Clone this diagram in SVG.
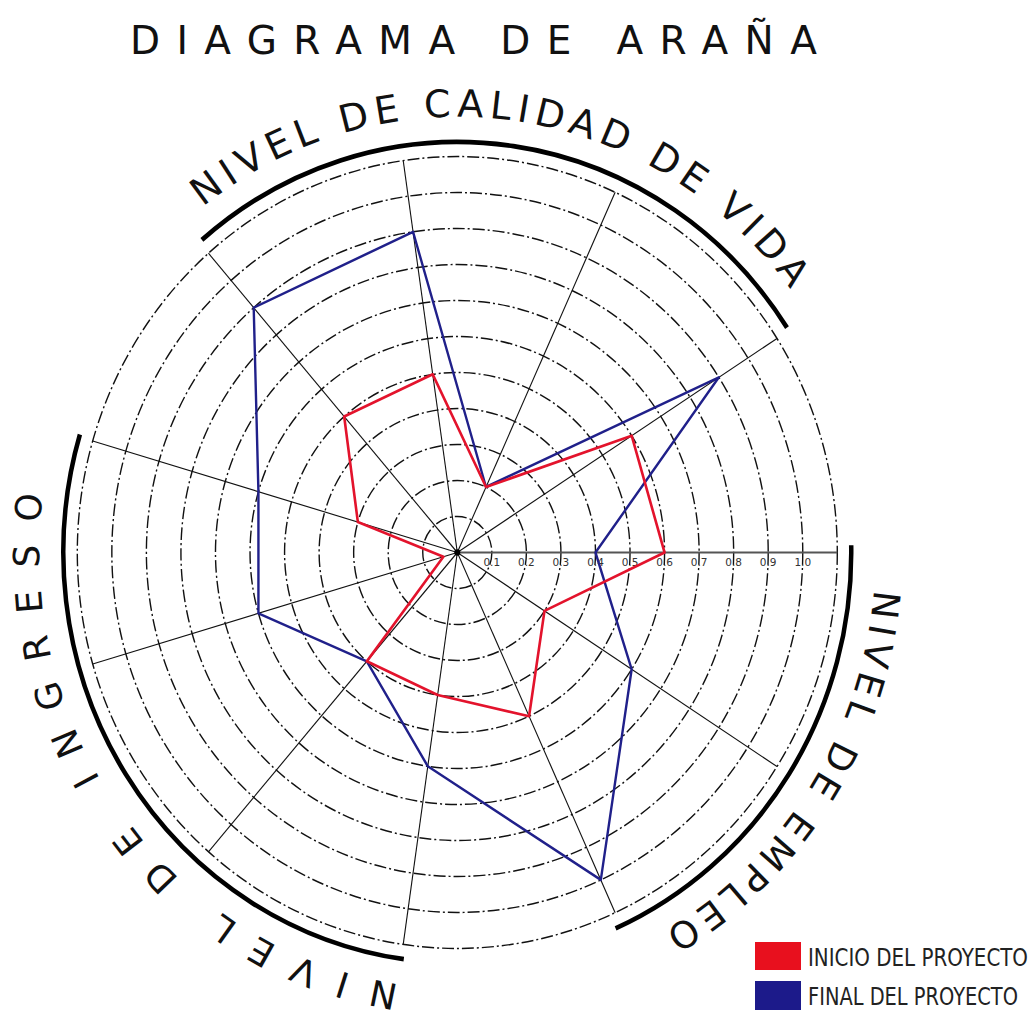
<svg xmlns="http://www.w3.org/2000/svg" width="1035" height="1010" viewBox="0 0 1035 1010">
<defs>
<style>
.ring{fill:none;stroke:#111;stroke-width:1.4;stroke-dasharray:12 3 2 3}
.spoke{stroke:#111;stroke-width:1.1;fill:none}
.thick{fill:none;stroke:#000;stroke-width:4.5}
.lbl{font-family:"DejaVu Sans",sans-serif;fill:#111}
.tick{font-family:"DejaVu Sans",sans-serif;font-size:10.5px;fill:#333;text-anchor:middle}
.leg{font-family:"DejaVu Sans",sans-serif;font-size:25px;fill:#222}
.red{fill:none;stroke:#e3132c;stroke-width:2.6;stroke-linejoin:round}
.blue{fill:none;stroke:#20208a;stroke-width:2.4;stroke-linejoin:round}
</style>
<path id="pTop" d="M 202.8 206.9 A 418 435.6 0 0 1 850.1 403.5"/>
<path id="pRight" d="M 873.8 589.7 A 418 435.6 0 0 1 529.9 981.5"/>
<path id="pLeft" d="M 399.1 983.9 A 418 435.6 0 0 1 64.5 403.5"/>
</defs>
<rect width="1035" height="1010" fill="#fff"/>
<text x="130" y="54" font-family="DejaVu Sans, sans-serif" font-size="39" letter-spacing="16.4" fill="#111">DIAGRAMA DE ARAÑA</text>
<g id="axis-labels">
<text class="tick" x="491.8" y="566">0.1</text>
<text class="tick" x="526.4" y="566">0.2</text>
<text class="tick" x="560.9" y="566">0.3</text>
<text class="tick" x="595.5" y="566">0.4</text>
<text class="tick" x="630.0" y="566">0.5</text>
<text class="tick" x="664.6" y="566">0.6</text>
<text class="tick" x="699.1" y="566">0.7</text>
<text class="tick" x="733.7" y="566">0.8</text>
<text class="tick" x="768.2" y="566">0.9</text>
<text class="tick" x="802.8" y="566">1.0</text>
</g>
<g id="grid" transform="translate(457.3 552.5) scale(1 1.042)">
<circle class="ring" r="34.545"/>
<circle class="ring" r="69.09"/>
<circle class="ring" r="103.64"/>
<circle class="ring" r="138.18"/>
<circle class="ring" r="172.73"/>
<circle class="ring" r="207.27"/>
<circle class="ring" r="241.82"/>
<circle class="ring" r="276.36"/>
<circle class="ring" r="310.91"/>
<circle class="ring" r="345.45"/>
<circle class="ring" r="380"/>
<g id="connectors">
<line class="spoke" x1="0" y1="0" x2="319.68" y2="-205.44"/>
<line class="spoke" x1="0" y1="0" x2="157.86" y2="-345.66"/>
<line class="spoke" x1="0" y1="0" x2="-54.08" y2="-376.13"/>
<line class="spoke" x1="0" y1="0" x2="-248.85" y2="-287.19"/>
<line class="spoke" x1="0" y1="0" x2="-364.61" y2="-107.06"/>
<line class="spoke" x1="0" y1="0" x2="-364.61" y2="107.06"/>
<line class="spoke" x1="0" y1="0" x2="-248.85" y2="287.19"/>
<line class="spoke" x1="0" y1="0" x2="-54.08" y2="376.13"/>
<line class="spoke" x1="0" y1="0" x2="157.86" y2="345.66"/>
<line class="spoke" x1="0" y1="0" x2="319.68" y2="205.44"/>
<line x1="0" y1="0" x2="380" y2="0" stroke="#555" stroke-width="2"/>
</g>
<path class="thick" d="M -255.4 -300 A 394 394 0 0 1 329.7 -215.8"/>
<path class="thick" d="M 393.9 -6.9 A 394 394 0 0 1 158.3 360.8"/>
<path class="thick" d="M -53.5 390.3 A 394 394 0 0 1 -377.4 -113.2"/>
<g id="blue-series">
<polygon class="blue" points="138.18,0 261.56,-168.09 28.70,-62.85 -44.25,-307.74 -203.60,-234.97 -198.87,-58.39 -198.87,58.39 -90.49,104.43 -29.50,205.16 143.51,314.23 174.37,112.06"/>
</g>
<g id="red-series">
<polygon class="red" points="207.27,0 174.37,-112.06 28.70,-62.85 -24.58,-170.97 -113.11,-130.54 -99.44,-29.20 -13.91,4.09 -90.49,104.43 -19.66,136.77 71.76,157.12 87.19,56.03"/>
</g>
<circle r="3" fill="#000"/>
</g>
<g id="labels">
<text class="lbl" font-size="38" letter-spacing="6"><textPath href="#pTop">NIVEL DE CALIDAD DE VIDA</textPath></text>
<text class="lbl" font-size="37" letter-spacing="5.8"><textPath href="#pRight">NIVEL DE EMPLEO</textPath></text>
<text class="lbl" font-size="36" letter-spacing="21.8"><textPath href="#pLeft">NIVEL DE INGRESO</textPath></text>
</g>
<g id="legend">
<rect x="755" y="942" width="46" height="28" fill="#e8101e"/>
<rect x="755" y="981" width="46" height="29" fill="#1c1a8a"/>
<text class="leg" x="808" y="966" textLength="220" lengthAdjust="spacingAndGlyphs">INICIO DEL PROYECTO</text>
<text class="leg" x="808" y="1005" textLength="210" lengthAdjust="spacingAndGlyphs">FINAL DEL PROYECTO</text>
</g>
</svg>
